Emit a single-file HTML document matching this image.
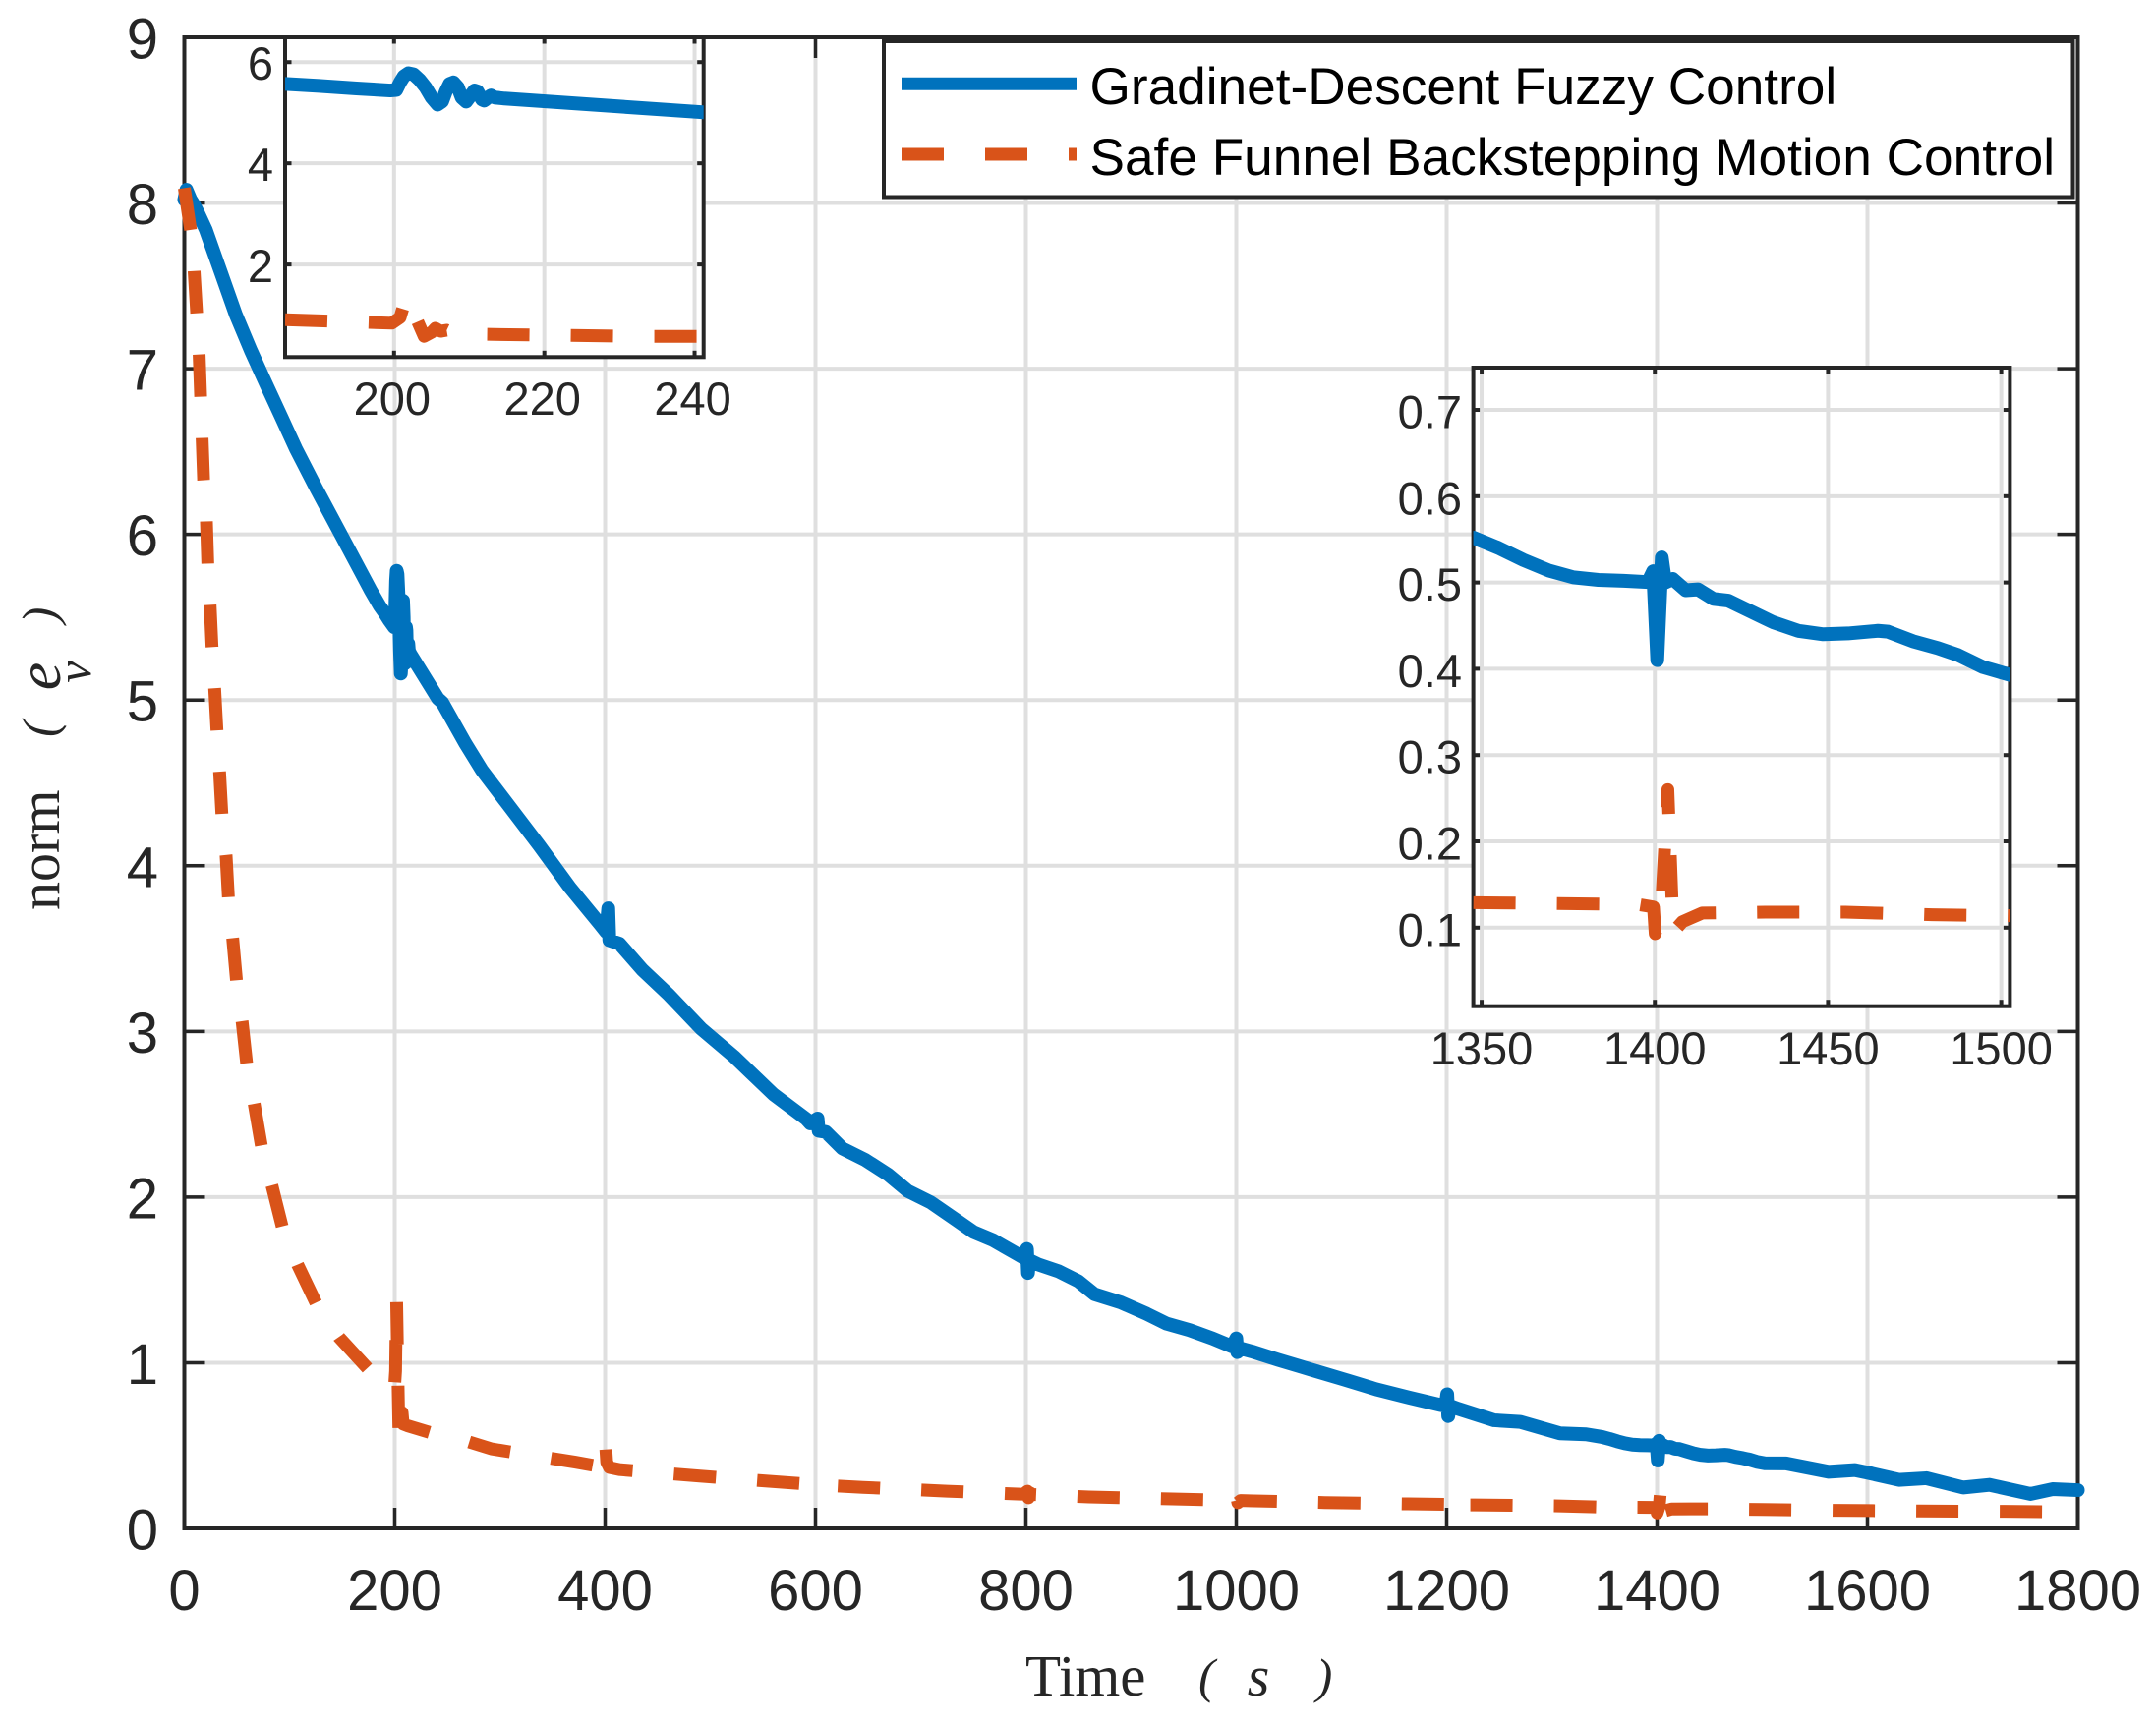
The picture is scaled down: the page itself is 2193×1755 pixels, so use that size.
<!DOCTYPE html>
<html lang="en">
<head>
<meta charset="utf-8">
<title>Velocity error norm comparison</title>
<style>
  html, body { margin: 0; padding: 0; background: #ffffff; }
  svg { display: block; }
  text { font-family: "Liberation Sans", sans-serif; fill: #262626; }
  .serif { font-family: "Liberation Serif", serif; }
  .math { font-family: "Liberation Serif", serif; font-style: italic; }
</style>
</head>
<body>
<svg id="chart" xmlns="http://www.w3.org/2000/svg" width="2193" height="1755" viewBox="0 0 2193 1755">
  <defs>
    <clipPath id="clip-inset-early"><rect x="290" y="38" width="425.7" height="325.3"/></clipPath>
    <clipPath id="clip-inset-late"><rect x="1498.6" y="374" width="545.8" height="649.7"/></clipPath>
  </defs>
  <rect x="0" y="0" width="2193" height="1755" fill="#ffffff"/>
  <g id="layer-main"></g>
  <g id="layer-inset-early"></g>
  <g id="layer-inset-late"></g>

  <g>
    <text class="serif" x="1043" y="1725" font-size="59">Time</text>
    <text class="math" x="1227.5" y="1722" font-size="50" text-anchor="middle">(</text>
    <text class="math" x="1280" y="1725" font-size="58" text-anchor="middle">s</text>
    <text class="math" x="1347" y="1722" font-size="50" text-anchor="middle">)</text>
  </g>
  <g>
    <text class="serif" transform="translate(60,926) rotate(-90)" font-size="58">norm</text>
    <text class="math" transform="translate(57,741.5) rotate(-90)" font-size="50" text-anchor="middle">(</text>
    <text class="math" transform="translate(61,688) rotate(-90)" font-size="64" text-anchor="middle">e</text>
    <text class="math" transform="translate(92,683.5) rotate(-90)" font-size="50" text-anchor="middle">v</text>
    <text class="math" transform="translate(57,626) rotate(-90)" font-size="50" text-anchor="middle">)</text>
  </g>

  <g>
    <rect x="899" y="42" width="1209.5" height="158.5" fill="#ffffff" stroke="#262626" stroke-width="4"/>
    <line x1="917" y1="85.3" x2="1095" y2="85.3" stroke="#0072bd" stroke-width="13"/>
    <text x="1108.5" y="106" font-size="53.2" style="fill:#000000">Gradinet-Descent Fuzzy Control</text>
    <line x1="917" y1="157" x2="1095" y2="157" stroke="#d95319" stroke-width="13" stroke-dasharray="43 42"/>
    <text x="1108.5" y="178" font-size="53.2" style="fill:#000000">Safe Funnel Backstepping Motion Control</text>
  </g>
</svg>

<script>
// ---- Series data (time in seconds, norm value) ----
const blueTime = [0,2,6,9,13,20.3,34.6,48.9,63.2,77.5,91.8,106.1,125.2,148.8,176.8,185.5,190,195,199.5,200.3,200.8,201.3,201.9,202.6,203.4,204.2,205,205.8,206.4,206.9,207.4,207.9,208.5,209,209.6,210.1,210.7,211.1,211.7,212,212.5,212.9,213.4,214.7,241,245.3,267,282.7,292,307.6,337.2,366.8,394.9,401,403,404,413.6,435.4,460.3,491.4,522.6,560,591.1,595,602,603,609.8,625.4,647.2,669,687.7,709.5,734.4,750,768.7,790.5,799,801,802,803,812.3,831,849.7,865.2,890.2,915,933.8,955.6,977.4,996,1000,1001,1002,1014.8,1039.7,1070.8,1102,1133,1164,1194,1199,1200.5,1201.5,1203,1211,1245,1270,1307.7,1332.5,1347.6,1354.9,1362.1,1369.3,1376.5,1383.7,1391,1398,1399.5,1400.7,1402,1403,1405.2,1408.9,1412.5,1416.9,1421.2,1428.4,1434.1,1441.4,1448.6,1455.8,1464.4,1467.3,1474.5,1481.7,1487.5,1494.7,1502.4,1522.6,1563,1588,1600.5,1630,1656,1691,1716,1755,1776,1800];
const blueValue = [8.02,8.08,8.02,7.99,7.94,7.84,7.584,7.327,7.11,6.91,6.714,6.516,6.28,6.0,5.666,5.57,5.53,5.48,5.44,5.45,5.6,5.72,5.78,5.76,5.65,5.5,5.3,5.16,5.22,5.42,5.57,5.6,5.5,5.3,5.22,5.32,5.44,5.42,5.26,5.24,5.3,5.34,5.3,5.28,5.01,4.985,4.74,4.578,4.5,4.37,4.123,3.866,3.649,3.6,3.743,3.55,3.53,3.372,3.223,3.016,2.848,2.62,2.472,2.445,2.474,2.4,2.393,2.294,2.225,2.136,2.037,1.968,1.859,1.79,1.74,1.661,1.63,1.687,1.542,1.62,1.592,1.552,1.493,1.414,1.364,1.295,1.236,1.197,1.147,1.098,1.147,1.064,1.09,1.068,1.018,0.959,0.9,0.84,0.79,0.745,0.74,0.81,0.678,0.74,0.722,0.653,0.643,0.574,0.568,0.552,0.54,0.526,0.514,0.506,0.503,0.502,0.5005,0.513,0.41,0.529,0.5,0.504,0.491,0.492,0.481,0.479,0.465,0.454,0.444,0.44,0.441,0.444,0.443,0.432,0.424,0.416,0.402,0.393,0.392,0.342,0.352,0.336,0.293,0.303,0.247,0.263,0.208,0.237,0.231];

const orangeTime = [0,6,9.3,11.7,14.1,15.5,16.9,18.3,21,22.3,24.5,26.3,28.8,31,33.5,35.7,39.7,41.9,46,49.7,55,59.3,66.5,73.4,83.4,93.3,107.7,126.3,147.2,175.2,185.5,199.7,200.8,201.3,201.8,203,204,205,205.5,206.2,207,208,212,233,241,292,371.5,398,400.3,401.5,404,413.6,490,570,598,600,602,645,725,795,798,801.5,802.5,804,806,860,939,995,998,1000,1001.5,1004,1084,1163,1198,1200,1202,1227,1307,1347.6,1395,1399.6,1400.1,1402,1403.75,1405.3,1408,1413.7,1432,1455,1480,1500,1570,1650,1730,1800];
const orangeValue = [8.09,7.835,7.59,7.337,7.08,6.83,6.58,6.33,6.08,5.82,5.57,5.32,5.07,4.815,4.564,4.31,4.06,3.807,3.56,3.3,3.055,2.804,2.56,2.304,2.066,1.815,1.592,1.345,1.153,0.959,0.91,0.84,0.95,1.2,1.376,0.92,0.58,0.66,0.74,0.68,0.7,0.63,0.62,0.58,0.58,0.48,0.4,0.37,0.516,0.4,0.368,0.355,0.316,0.278,0.265,0.28,0.262,0.248,0.225,0.207,0.207,0.225,0.185,0.215,0.205,0.19,0.178,0.17,0.172,0.2,0.155,0.168,0.156,0.148,0.145,0.2,0.142,0.142,0.136,0.129,0.127,0.124,0.093,0.131,0.26,0.095,0.107,0.117,0.118,0.118,0.115,0.114,0.109,0.105,0.103,0.099];

// ---- Tick values and labels ----
const mainXTicks = [0,200,400,600,800,1000,1200,1400,1600,1800];
const mainXLabels = ["0","200","400","600","800","1000","1200","1400","1600","1800"];
const mainYTicks = [0,1,2,3,4,5,6,7,8,9];
const mainYLabels = ["0","1","2","3","4","5","6","7","8","9"];
const earlyXTicks = [200,220,240];
const earlyXLabels = ["200","220","240"];
const earlyYTicks = [2,4,6];
const earlyYLabels = ["2","4","6"];
const lateXTicks = [1350,1400,1450,1500];
const lateXLabels = ["1350","1400","1450","1500"];
const lateYTicks = [0.1,0.2,0.3,0.4,0.5,0.6,0.7];
const lateYLabels = ["0.1","0.2","0.3","0.4","0.5","0.6","0.7"];

// ---- Axis limits ----
const mainXLimits = [0,1800];
const mainYLimits = [0,9];
const earlyXLimits = [185.5,241.2];
const earlyYLimits = [0.17,6.49];
const lateXLimits = [1347.6,1502.5];
const lateYLimits = [0.009,0.749];

const SVG_NS = 'http://www.w3.org/2000/svg';
const AXIS_COLOR = '#262626';
const GRID_COLOR = '#dfdfdf';
const BLUE = '#0072bd';
const ORANGE = '#d95319';

function scale(domain, range) {
  return function (v) {
    return range[0] + (v - domain[0]) / (domain[1] - domain[0]) * (range[1] - range[0]);
  };
}

function mk(parent, tag, attrs) {
  const el = document.createElementNS(SVG_NS, tag);
  for (const k in attrs) el.setAttribute(k, attrs[k]);
  parent.appendChild(el);
  return el;
}

// Restrict a series to an x window, interpolating the end points at the limits.
function windowed(ts, vs, lo, hi) {
  const out = [];
  const interp = function (x) {
    for (let i = 1; i < ts.length; i++) {
      if (ts[i] >= x) {
        const f = (x - ts[i - 1]) / (ts[i] - ts[i - 1]);
        return vs[i - 1] + f * (vs[i] - vs[i - 1]);
      }
    }
    return vs[vs.length - 1];
  };
  out.push([lo, interp(lo)]);
  for (let i = 0; i < ts.length; i++) {
    if (ts[i] > lo && ts[i] < hi) out.push([ts[i], vs[i]]);
  }
  out.push([hi, interp(hi)]);
  return out;
}

function pathFrom(points, sx, sy) {
  return points.map(function (p, i) {
    return (i ? 'L' : 'M') + sx(p[0]).toFixed(2) + ' ' + sy(p[1]).toFixed(2);
  }).join(' ');
}

function drawAxes(cfg) {
  const g = cfg.layer;
  const sx = scale(cfg.xLimits, [cfg.left, cfg.right]);
  const sy = scale(cfg.yLimits, [cfg.bottom, cfg.top]);

  if (cfg.background) {
    const bg = mk(g, 'rect', { x: cfg.left, y: cfg.top, width: cfg.right - cfg.left, height: cfg.bottom - cfg.top, fill: '#ffffff' });
    
    
  }

  cfg.xTicks.forEach(function (t) {
    const gl = mk(g, 'line', { x1: sx(t), x2: sx(t), y1: cfg.top, y2: cfg.bottom, stroke: GRID_COLOR, 'stroke-width': 4 });
    
    
  });
  cfg.yTicks.forEach(function (t) {
    const gl = mk(g, 'line', { x1: cfg.left, x2: cfg.right, y1: sy(t), y2: sy(t), stroke: GRID_COLOR, 'stroke-width': 4 });
    
    
  });

  const box = mk(g, 'rect', { x: cfg.left, y: cfg.top, width: cfg.right - cfg.left, height: cfg.bottom - cfg.top, fill: 'none', stroke: AXIS_COLOR, 'stroke-width': 4 });
  
  

  cfg.xTicks.forEach(function (t, i) {
    const lowTick = mk(g, 'line', { x1: sx(t), x2: sx(t), y1: cfg.bottom, y2: cfg.bottom - cfg.tickLen, stroke: AXIS_COLOR, 'stroke-width': cfg.tickWidth });
    
    
    const highTick = mk(g, 'line', { x1: sx(t), x2: sx(t), y1: cfg.top, y2: cfg.top + cfg.tickLen, stroke: AXIS_COLOR, 'stroke-width': cfg.tickWidth });
    
    
    const label = mk(g, 'text', { x: sx(t) + cfg.xLabelDx, y: cfg.xLabelY, 'font-size': cfg.fontSize, 'text-anchor': 'middle' });
    label.textContent = cfg.xLabels[i];
    
    
  });

  cfg.yTicks.forEach(function (t, i) {
    const leftTick = mk(g, 'line', { x1: cfg.left, x2: cfg.left + cfg.tickLen, y1: sy(t), y2: sy(t), stroke: AXIS_COLOR, 'stroke-width': cfg.tickWidth });
    
    
    const rightTick = mk(g, 'line', { x1: cfg.right, x2: cfg.right - cfg.tickLen, y1: sy(t), y2: sy(t), stroke: AXIS_COLOR, 'stroke-width': cfg.tickWidth });
    
    
    const label = mk(g, 'text', { x: cfg.yLabelX, y: sy(t) + cfg.yLabelDy, 'font-size': cfg.fontSize, 'text-anchor': 'end' });
    label.textContent = cfg.yLabels[i];
    
    
  });

  const series = mk(g, 'g', cfg.clip ? { 'clip-path': 'url(#' + cfg.clip + ')' } : {});
  
  

  const bluePts = windowed(blueTime, blueValue, cfg.xLimits[0], cfg.xLimits[1]);
  const bluePath = mk(series, 'path', { d: pathFrom(bluePts, sx, sy), fill: 'none', stroke: BLUE, 'stroke-width': 14, 'stroke-linejoin': 'round', 'stroke-linecap': 'round' });
  
  

  const orangePts = windowed(orangeTime, orangeValue, cfg.xLimits[0], cfg.xLimits[1]);
  const orangePath = mk(series, 'path', { d: pathFrom(orangePts, sx, sy), fill: 'none', stroke: ORANGE, 'stroke-width': 13, 'stroke-linejoin': 'round', 'stroke-linecap': 'butt', 'stroke-dasharray': '43 42' });
  
  
}

drawAxes({
  layer: document.getElementById('layer-main'), prefix: 'main',
  xLimits: mainXLimits, yLimits: mainYLimits,
  left: 187.5, right: 2113.5, top: 38, bottom: 1555,
  xTicks: mainXTicks, xLabels: mainXLabels, yTicks: mainYTicks, yLabels: mainYLabels,
  tickLen: 21, tickWidth: 3.5, fontSize: 58, xLabelY: 1638, xLabelDx: 0, yLabelX: 161, yLabelDy: 21.5,
  background: false, clip: null
});

drawAxes({
  layer: document.getElementById('layer-inset-early'), prefix: 'inset-early',
  xLimits: earlyXLimits, yLimits: earlyYLimits,
  left: 290, right: 715.7, top: 38, bottom: 363.3,
  xTicks: earlyXTicks, xLabels: earlyXLabels, yTicks: earlyYTicks, yLabels: earlyYLabels,
  tickLen: 6.5, tickWidth: 4, fontSize: 47, xLabelY: 422, xLabelDx: -2, yLabelX: 278, yLabelDy: 18,
  background: true, clip: 'clip-inset-early'
});

drawAxes({
  layer: document.getElementById('layer-inset-late'), prefix: 'inset-late',
  xLimits: lateXLimits, yLimits: lateYLimits,
  left: 1498.6, right: 2044.4, top: 374, bottom: 1023.7,
  xTicks: lateXTicks, xLabels: lateXLabels, yTicks: lateYTicks, yLabels: lateYLabels,
  tickLen: 6.5, tickWidth: 4, fontSize: 47, xLabelY: 1083, xLabelDx: 0, yLabelX: 1487, yLabelDy: 18.5,
  background: true, clip: 'clip-inset-late'
});
</script>
</body>
</html>
